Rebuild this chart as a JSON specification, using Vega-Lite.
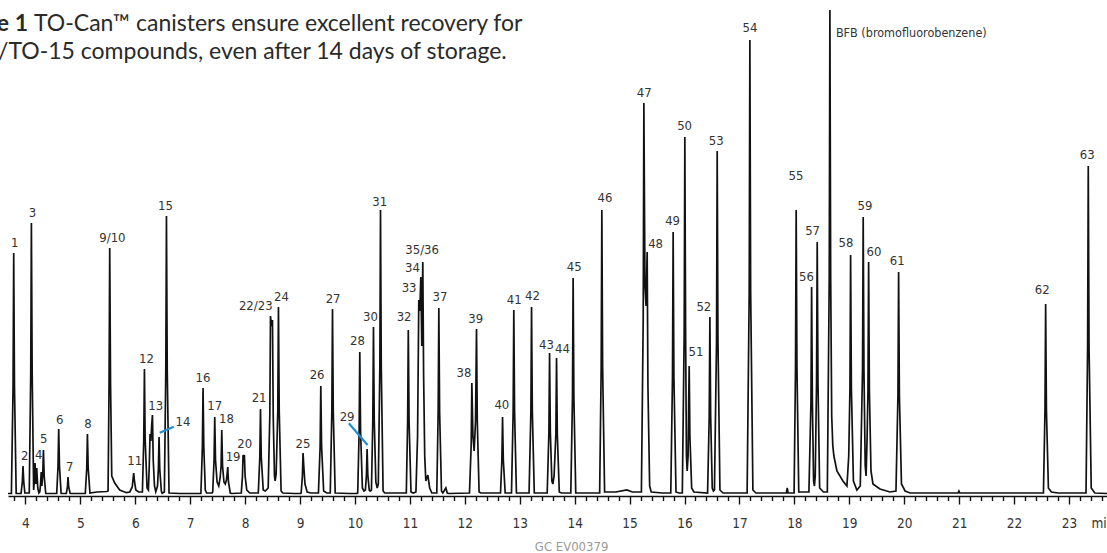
{
  "$schema": "https://vega.github.io/schema/vega-lite/v6.json",
  "width": 1099,
  "height": 496,
  "autosize": {"type": "none"},
  "padding": {"left": 8, "top": 0, "right": 0, "bottom": 57},
  "background": "white",
  "config": {"view": {"stroke": null}},
  "datasets": {
    "trace": [
      {"t":3.683,"s":2.5},{"t":3.745,"s":2.5},{"t":3.775,"s":109},{"t":3.787,"s":243},{"t":3.801,"s":109},{"t":3.832,"s":2.5},
      {"t":3.92,"s":2.5},{"t":3.944,"s":14},{"t":3.956,"s":30},{"t":3.970,"s":14},{"t":3.99,"s":3},
      {"t":4.07,"s":3},{"t":4.097,"s":123},{"t":4.109,"s":273},{"t":4.123,"s":123},{"t":4.150,"s":6},
      {"t":4.163,"s":15},{"t":4.175,"s":33},{"t":4.190,"s":12},{"t":4.206,"s":28},{"t":4.225,"s":8},{"t":4.245,"s":3},
      {"t":4.262,"s":4},{"t":4.276,"s":12},{"t":4.288,"s":24},{"t":4.300,"s":10},{"t":4.316,"s":22},{"t":4.328,"s":46},{"t":4.342,"s":20},{"t":4.37,"s":2.5},
      {"t":4.57,"s":2.5},{"t":4.594,"s":30},{"t":4.606,"s":67},{"t":4.620,"s":30},{"t":4.65,"s":2.5},
      {"t":4.745,"s":2.5},{"t":4.765,"s":9},{"t":4.776,"s":19},{"t":4.788,"s":9},{"t":4.815,"s":2.5},
      {"t":5.09,"s":2.5},{"t":5.117,"s":28},{"t":5.129,"s":62},{"t":5.143,"s":28},{"t":5.175,"s":3},
      {"t":5.30,"s":4},{"t":5.48,"s":4.5},{"t":5.505,"s":5},{"t":5.523,"s":112},{"t":5.535,"s":248},{"t":5.550,"s":112},{"t":5.572,"s":20},{"t":5.626,"s":13},{"t":5.717,"s":6},{"t":5.839,"s":3.3},
      {"t":5.90,"s":4},{"t":5.945,"s":9},{"t":5.960,"s":17},{"t":5.972,"s":23},{"t":5.985,"s":15},{"t":6.010,"s":6},{"t":6.063,"s":4},
      {"t":6.13,"s":4},{"t":6.155,"s":57},{"t":6.167,"s":127},{"t":6.180,"s":57},{"t":6.215,"s":8},{"t":6.239,"s":6},
      {"t":6.255,"s":30},{"t":6.269,"s":62},{"t":6.285,"s":55},{"t":6.300,"s":72},{"t":6.313,"s":81},{"t":6.327,"s":36},{"t":6.350,"s":10},{"t":6.373,"s":4.3},
      {"t":6.405,"s":10},{"t":6.421,"s":27},{"t":6.433,"s":59},{"t":6.446,"s":27},{"t":6.475,"s":5},{"t":6.490,"s":2.7},
      {"t":6.530,"s":4},{"t":6.556,"s":126},{"t":6.568,"s":280},{"t":6.582,"s":126},{"t":6.615,"s":3},
      {"t":6.80,"s":2.5},{"t":7.195,"s":2.5},{"t":7.222,"s":49},{"t":7.234,"s":108},{"t":7.248,"s":49},{"t":7.275,"s":6},{"t":7.30,"s":3},
      {"t":7.40,"s":3},{"t":7.41,"s":4},{"t":7.435,"s":36},{"t":7.447,"s":79},{"t":7.461,"s":36},{"t":7.490,"s":14},{"t":7.520,"s":10},
      {"t":7.545,"s":18},{"t":7.563,"s":30},{"t":7.575,"s":66},{"t":7.589,"s":30},{"t":7.615,"s":14},{"t":7.639,"s":12},
      {"t":7.660,"s":16},{"t":7.672,"s":22},{"t":7.684,"s":29},{"t":7.697,"s":14},{"t":7.730,"s":3},{"t":7.757,"s":2.5},
      {"t":7.93,"s":3},{"t":7.952,"s":20},{"t":7.963,"s":41},{"t":7.975,"s":37},{"t":7.987,"s":41},{"t":8.000,"s":20},{"t":8.030,"s":6},{"t":8.085,"s":3},
      {"t":8.24,"s":3},{"t":8.268,"s":39},{"t":8.280,"s":87},{"t":8.294,"s":39},{"t":8.330,"s":6},{"t":8.367,"s":5},
      {"t":8.420,"s":8},{"t":8.450,"s":81},{"t":8.462,"s":180},{"t":8.480,"s":170},{"t":8.498,"s":176},{"t":8.512,"s":79},{"t":8.535,"s":20},{"t":8.547,"s":15},
      {"t":8.565,"s":22},{"t":8.595,"s":85},{"t":8.607,"s":189},{"t":8.621,"s":85},{"t":8.655,"s":5},{"t":8.688,"s":3},
      {"t":8.90,"s":2.5},{"t":9.01,"s":2.5},{"t":9.020,"s":3},{"t":9.043,"s":20},{"t":9.055,"s":43},{"t":9.068,"s":30},{"t":9.090,"s":12},{"t":9.130,"s":4},{"t":9.20,"s":3},
      {"t":9.335,"s":3},{"t":9.366,"s":50},{"t":9.378,"s":110},{"t":9.392,"s":50},{"t":9.430,"s":5},{"t":9.487,"s":3},
      {"t":9.550,"s":3},{"t":9.579,"s":84},{"t":9.591,"s":187},{"t":9.605,"s":84},{"t":9.640,"s":3},
      {"t":9.90,"s":2.5},{"t":10.04,"s":2.5},{"t":10.050,"s":3},{"t":10.076,"s":65},{"t":10.088,"s":144},{"t":10.102,"s":65},{"t":10.135,"s":8},{"t":10.163,"s":5},
      {"t":10.190,"s":6},{"t":10.209,"s":21},{"t":10.221,"s":47},{"t":10.234,"s":21},{"t":10.260,"s":6},{"t":10.278,"s":5},
      {"t":10.300,"s":6},{"t":10.325,"s":76},{"t":10.337,"s":169},{"t":10.351,"s":76},{"t":10.380,"s":14},{"t":10.406,"s":8},
      {"t":10.425,"s":12},{"t":10.453,"s":129},{"t":10.465,"s":286},{"t":10.479,"s":129},{"t":10.512,"s":5},{"t":10.543,"s":3},
      {"t":10.935,"s":3},{"t":10.959,"s":75},{"t":10.971,"s":166},{"t":10.985,"s":75},{"t":11.020,"s":4},{"t":11.062,"s":3},
      {"t":11.110,"s":4},{"t":11.140,"s":60},{"t":11.162,"s":196},{"t":11.181,"s":185},{"t":11.199,"s":219},{"t":11.217,"s":150},{"t":11.235,"s":234},{"t":11.250,"s":120},{"t":11.270,"s":40},{"t":11.290,"s":15},{"t":11.327,"s":21},{"t":11.36,"s":8},{"t":11.40,"s":3},
      {"t":11.490,"s":3},{"t":11.515,"s":85},{"t":11.527,"s":188},{"t":11.541,"s":85},{"t":11.575,"s":5},{"t":11.600,"s":3},{"t":11.655,"s":8},{"t":11.680,"s":3},{"t":11.710,"s":2.5},
      {"t":12.085,"s":3},{"t":12.116,"s":51},{"t":12.128,"s":113},{"t":12.148,"s":60},{"t":12.170,"s":45},{"t":12.195,"s":75},{"t":12.213,"s":167},{"t":12.227,"s":75},{"t":12.260,"s":4},{"t":12.292,"s":3},
      {"t":12.650,"s":3},{"t":12.675,"s":36},{"t":12.687,"s":79},{"t":12.701,"s":36},{"t":12.735,"s":3},
      {"t":12.850,"s":3},{"t":12.880,"s":84},{"t":12.892,"s":186},{"t":12.906,"s":84},{"t":12.940,"s":3},
      {"t":13.170,"s":3},{"t":13.203,"s":85},{"t":13.215,"s":189},{"t":13.229,"s":85},{"t":13.265,"s":3},
      {"t":13.500,"s":3},{"t":13.531,"s":64},{"t":13.543,"s":143},{"t":13.557,"s":64},{"t":13.585,"s":15},{"t":13.603,"s":12},
      {"t":13.625,"s":20},{"t":13.658,"s":62},{"t":13.670,"s":138},{"t":13.684,"s":62},{"t":13.720,"s":4},{"t":13.760,"s":3},
      {"t":13.930,"s":3},{"t":13.960,"s":98},{"t":13.972,"s":218},{"t":13.986,"s":98},{"t":14.020,"s":3},
      {"t":14.455,"s":3},{"t":14.483,"s":129},{"t":14.495,"s":286},{"t":14.509,"s":129},{"t":14.545,"s":4},
      {"t":14.75,"s":4},{"t":14.95,"s":6},{"t":15.05,"s":4},{"t":15.215,"s":4},{"t":15.248,"s":177},{"t":15.260,"s":393},{"t":15.280,"s":210},{"t":15.300,"s":190},{"t":15.320,"s":244},{"t":15.334,"s":110},{"t":15.365,"s":10},{"t":15.394,"s":4},
      {"t":15.60,"s":3},{"t":15.750,"s":3},{"t":15.781,"s":119},{"t":15.793,"s":264},{"t":15.807,"s":119},{"t":15.845,"s":4},{"t":15.897,"s":3},
      {"t":15.960,"s":3},{"t":15.994,"s":162},{"t":16.006,"s":359},{"t":16.020,"s":162},{"t":16.035,"s":40},{"t":16.048,"s":25},
      {"t":16.065,"s":40},{"t":16.075,"s":90},{"t":16.085,"s":130},{"t":16.098,"s":60},{"t":16.130,"s":8},{"t":16.171,"s":4},
      {"t":16.420,"s":3},{"t":16.450,"s":80},{"t":16.462,"s":179},{"t":16.476,"s":80},{"t":16.505,"s":8},{"t":16.526,"s":5},
      {"t":16.545,"s":6},{"t":16.583,"s":155},{"t":16.595,"s":345},{"t":16.609,"s":155},{"t":16.645,"s":6},{"t":16.700,"s":3},
      {"t":17.140,"s":3},{"t":17.178,"s":205},{"t":17.190,"s":456},{"t":17.204,"s":205},{"t":17.245,"s":6},{"t":17.300,"s":3},
      {"t":17.855,"s":3},{"t":17.870,"s":8},{"t":17.885,"s":3},
      {"t":17.995,"s":3},{"t":18.021,"s":129},{"t":18.033,"s":286},{"t":18.047,"s":129},{"t":18.080,"s":4},
      {"t":18.265,"s":4},{"t":18.302,"s":94},{"t":18.314,"s":209},{"t":18.328,"s":94},{"t":18.350,"s":15},{"t":18.365,"s":10},{"t":18.380,"s":20},{"t":18.404,"s":114},{"t":18.416,"s":254},{"t":18.430,"s":114},{"t":18.460,"s":8},{"t":18.530,"s":4},
      {"t":18.600,"s":4},{"t":18.635,"s":219},{"t":18.647,"s":486},{"t":18.661,"s":219},{"t":18.680,"s":80},{"t":18.700,"s":50},{"t":18.720,"s":40},{"t":18.775,"s":25},{"t":18.884,"s":15},{"t":18.957,"s":10},
      {"t":18.990,"s":40},{"t":19.012,"s":108},{"t":19.024,"s":241},{"t":19.038,"s":108},{"t":19.075,"s":15},{"t":19.138,"s":6},
      {"t":19.200,"s":10},{"t":19.241,"s":126},{"t":19.253,"s":279},{"t":19.267,"s":126},{"t":19.290,"s":30},{"t":19.306,"s":20},{"t":19.325,"s":60},{"t":19.340,"s":105},{"t":19.352,"s":234},{"t":19.366,"s":105},{"t":19.395,"s":25},{"t":19.431,"s":12},{"t":19.558,"s":7},{"t":19.740,"s":4},
      {"t":19.850,"s":5},{"t":19.886,"s":101},{"t":19.898,"s":224},{"t":19.912,"s":101},{"t":19.950,"s":12},{"t":20.016,"s":5},{"t":20.107,"s":3},
      {"t":20.980,"s":3},{"t":20.996,"s":5},{"t":21.012,"s":3},
      {"t":22.535,"s":3},{"t":22.563,"s":86},{"t":22.575,"s":192},{"t":22.589,"s":86},{"t":22.625,"s":8},{"t":22.680,"s":4},{"t":22.800,"s":3},
      {"t":23.310,"s":3},{"t":23.339,"s":149},{"t":23.351,"s":330},{"t":23.365,"s":149},{"t":23.405,"s":8},{"t":23.470,"s":3},{"t":23.692,"s":2.5}
    ],
    "labels": [
      {"label":"1","t":3.805,"s":252.7},{"label":"2","t":3.987,"s":40},{"label":"3","t":4.127,"s":282.7},
      {"label":"4","t":4.242,"s":40.7},{"label":"5","t":4.333,"s":57.3},{"label":"6","t":4.625,"s":76},
      {"label":"7","t":4.807,"s":29.3},{"label":"8","t":5.140,"s":72},{"label":"9/10","t":5.584,"s":258.3},
      {"label":"11","t":5.990,"s":35},{"label":"12","t":6.204,"s":137},{"label":"13","t":6.373,"s":90},
      {"label":"14","t":6.870,"s":74.3},{"label":"15","t":6.550,"s":290.3},{"label":"16","t":7.234,"s":117.7},
      {"label":"17","t":7.447,"s":90},{"label":"18","t":7.660,"s":77.3},{"label":"19","t":7.781,"s":39.3},
      {"label":"20","t":7.994,"s":52},{"label":"21","t":8.254,"s":97.7},{"label":"22/23","t":8.194,"s":190},
      {"label":"24","t":8.662,"s":199.3},{"label":"25","t":9.055,"s":52},{"label":"26","t":9.310,"s":121},
      {"label":"27","t":9.602,"s":196.7},{"label":"28","t":10.046,"s":155},{"label":"29","t":9.857,"s":79.3},
      {"label":"30","t":10.283,"s":178.7},{"label":"31","t":10.452,"s":294},{"label":"32","t":10.895,"s":178.7},
      {"label":"33","t":10.986,"s":208.3},{"label":"34","t":11.048,"s":227.7},{"label":"35/36","t":11.223,"s":246},
      {"label":"37","t":11.546,"s":198.7},{"label":"38","t":11.983,"s":122.7},{"label":"39","t":12.200,"s":176.7},
      {"label":"40","t":12.674,"s":91},{"label":"41","t":12.898,"s":196},{"label":"42","t":13.233,"s":200},
      {"label":"43","t":13.488,"s":151},{"label":"44","t":13.779,"s":147},{"label":"45","t":13.991,"s":228.7},
      {"label":"46","t":14.550,"s":297.7},{"label":"47","t":15.265,"s":403.3},{"label":"48","t":15.473,"s":251.7},
      {"label":"49","t":15.783,"s":275.3},{"label":"50","t":16.001,"s":370.3},{"label":"51","t":16.207,"s":144.3},
      {"label":"52","t":16.352,"s":189.3},{"label":"53","t":16.577,"s":355.3},{"label":"54","t":17.190,"s":468},
      {"label":"55","t":18.028,"s":320.3},{"label":"56","t":18.222,"s":219.3},{"label":"57","t":18.332,"s":265},
      {"label":"58","t":18.938,"s":252.7},{"label":"59","t":19.284,"s":290.3},{"label":"60","t":19.448,"s":243.7},
      {"label":"61","t":19.873,"s":235},{"label":"62","t":22.513,"s":206},{"label":"63","t":23.333,"s":341}
    ],
    "leaders": [
      {"label":"14","t":6.446,"s":63.3,"t2":6.701,"s2":69.3},
      {"label":"29","t":9.888,"s":72.7,"t2":10.229,"s2":51}
    ],
    "bfb": [{"text":"BFB (bromofluorobenzene)","t":18.756,"s":462.7}],
    "titleBold": [{"text":"Figure 1","t":4.047,"s":465}],
    "titleText": [
      {"text":"TO-Can™ canisters ensure excellent recovery for","t":4.156,"s":465},
      {"text":"/TO-15 compounds, even after 14 days of storage.","t":3.501,"s":437}
    ],
    "note": [{"text":"GC EV00379","t":13.275,"s":-51}]
  },
  "encoding": {
    "x": {
      "field": "t", "type": "quantitative",
      "scale": {"domain": [3.683, 23.692], "nice": false, "zero": false},
      "axis": {
        "title": "min",
        "titleX": 1083, "titleY": 27, "titleAlign": "left", "titleBaseline": "middle",
        "titleFont": "DejaVu Sans Condensed, sans-serif",
        "titleFontSize": 13.5, "titleFontWeight": "normal", "titleColor": "#333333",
        "values": [3.8,4,4.2,4.4,4.6,4.8,5,5.2,5.4,5.6,5.8,6,6.2,6.4,6.6,6.8,7,7.2,7.4,7.6,7.8,8,8.2,8.4,8.6,8.8,9,9.2,9.4,9.6,9.8,10,10.2,10.4,10.6,10.8,11,11.2,11.4,11.6,11.8,12,12.2,12.4,12.6,12.8,13,13.2,13.4,13.6,13.8,14,14.2,14.4,14.6,14.8,15,15.2,15.4,15.6,15.8,16,16.2,16.4,16.6,16.8,17,17.2,17.4,17.6,17.8,18,18.2,18.4,18.6,18.8,19,19.2,19.4,19.6,19.8,20,20.2,20.4,20.6,20.8,21,21.2,21.4,21.6,21.8,22,22.2,22.4,22.6,22.8,23,23.2,23.4,23.6],
        "labelExpr": "abs(datum.value - round(datum.value)) < 0.01 ? format(datum.value, 'd') : ''",
        "labelOverlap": false, "labelFlush": false,
        "labelFont": "DejaVu Sans Condensed, sans-serif",
        "labelFontSize": 13.5, "labelColor": "#333333",
        "labelBaseline": "middle", "labelPadding": 19,
        "grid": false,
        "domainColor": "#111111", "domainWidth": 1.6,
        "tickColor": "#111111", "tickWidth": 1.4,
        "tickSize": {"condition": {"test": "abs(datum.value - round(datum.value)) < 0.01", "value": 8}, "value": 4.5}
      }
    },
    "y": {"field": "s", "type": "quantitative", "scale": {"domain": [0, 496], "nice": false, "zero": false}, "axis": null}
  },
  "layer": [
    {
      "data": {"name": "trace"},
      "mark": {"type": "line", "color": "#111111", "strokeWidth": 1.7, "interpolate": "linear"}
    },
    {
      "data": {"name": "leaders"},
      "mark": {"type": "rule", "color": "#1f8fd0", "strokeWidth": 2.2},
      "encoding": {"x2": {"field": "t2"}, "y2": {"field": "s2"}}
    },
    {
      "data": {"name": "labels"},
      "mark": {"type": "text", "font": "DejaVu Sans Condensed, sans-serif", "fontSize": 13, "color": "#333333", "align": "center", "baseline": "middle"},
      "encoding": {"text": {"field": "label"}}
    },
    {
      "data": {"name": "bfb"},
      "mark": {"type": "text", "font": "DejaVu Sans Condensed, sans-serif", "fontSize": 12.5, "color": "#333333", "align": "left", "baseline": "middle"},
      "encoding": {"text": {"field": "text"}}
    },
    {
      "data": {"name": "titleBold"},
      "mark": {"type": "text", "font": "Lato", "fontSize": 23, "fontWeight": "bold", "color": "#2a2a2a", "align": "right", "baseline": "alphabetic"},
      "encoding": {"text": {"field": "text"}}
    },
    {
      "data": {"name": "titleText"},
      "mark": {"type": "text", "font": "Lato", "fontSize": 23, "color": "#2a2a2a", "align": "left", "baseline": "alphabetic"},
      "encoding": {"text": {"field": "text"}}
    },
    {
      "data": {"name": "note"},
      "mark": {"type": "text", "font": "DejaVu Sans Condensed, sans-serif", "fontSize": 13, "color": "#9a9a9a", "align": "left", "baseline": "middle"},
      "encoding": {"text": {"field": "text"}}
    }
  ]
}
